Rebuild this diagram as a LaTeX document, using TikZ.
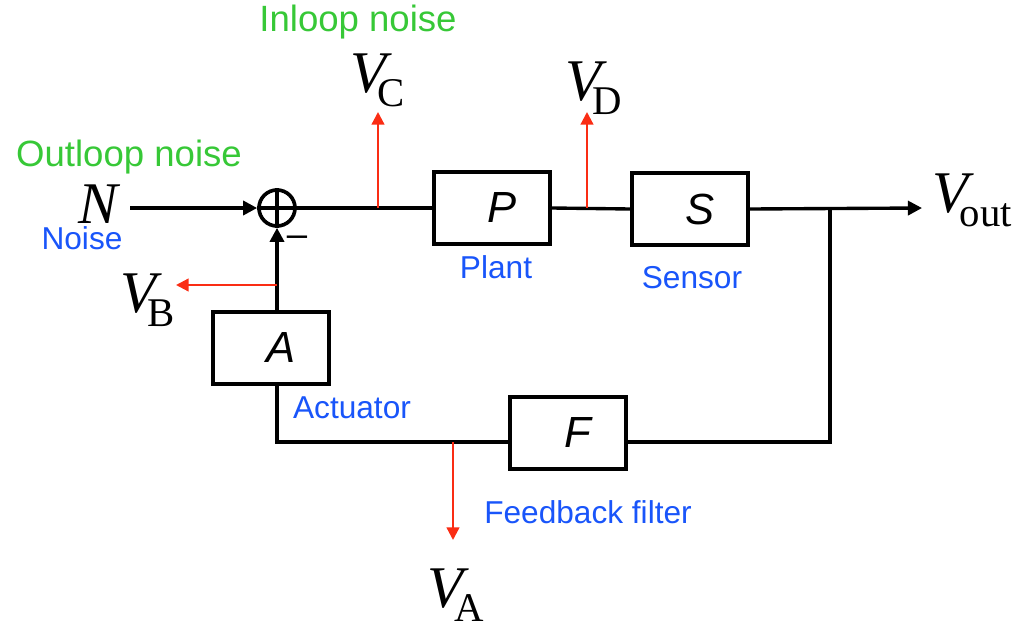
\documentclass[tikz,border=0pt]{standalone}
\usepackage{fontspec}
\setmainfont{Liberation Serif}
\setsansfont{Liberation Sans}
\usetikzlibrary{arrows.meta,positioning,calc}
\definecolor{lblblue}{RGB}{25,85,250}
\definecolor{noisegreen}{RGB}{55,200,55}
\definecolor{tapred}{RGB}{250,45,20}
\newcommand{\sig}[2]{{\fontsize{42}{42}\selectfont\itshape #1}\kern-6pt\raisebox{-0.37cm}{\fontsize{29}{29}\selectfont #2}}

\begin{document}
\begin{tikzpicture}[x=0.025cm,y=-0.025cm,
  blk/.style={draw,line width=2.8pt,minimum width=2.9cm,minimum height=1.82cm,
    inner sep=0pt,font=\sffamily\itshape\fontsize{31}{31}\selectfont},
  wire/.style={line width=2.4pt},
  sig/.style={-{Triangle[length=10pt,width=10pt]},line width=2.4pt},
  tap/.style={-{Triangle[length=9pt,width=9pt]},tapred,line width=1.6pt},
  var/.style={anchor=base west,inner sep=0pt},
  blu/.style={lblblue,font=\sffamily\fontsize{22.5}{22.5}\selectfont},
  grn/.style={noisegreen,font=\sffamily\fontsize{26}{26}\selectfont}]
\useasboundingbox (0,0) rectangle (1012,624);

% blocks
\node[circle,draw,line width=2.6pt,minimum size=0.9cm,inner sep=0pt] (sum) at (277,208) {};
\node[blk] (P) at (492,208) {\hspace*{0.5cm}P};
\node[blk] (S) at (690,209) {\hspace*{0.5cm}S};
\node[blk] (A) at (271,348) {\hspace*{0.5cm}A};
\node[blk] (F) at (568,433) {\hspace*{0.5cm}F};
\draw[line width=2.4pt] (sum.north) -- (sum.south) (sum.west) -- (sum.east);

% signals
\node[var] (N) at (78,223) {{\fontsize{42}{42}\selectfont\itshape N}};
\node[var] (Vout) at (932,212) {\sig{V}{out}};
\node[var] (VC) at (350,92) {\sig{V}{C}};
\node[var] (VD) at (565,100) {\sig{V}{D}};
\node[var] (VB) at (120,312) {\sig{V}{B}};
\node[var] (VA) at (427,607) {\sig{V}{A}};

\coordinate (nin) at (130,208);
\coordinate (out) at (922,208);
\coordinate (fbl) at (277,442);
\coordinate (fbr) at (830,442);
\coordinate (fbo) at (830,208);

% loop
\draw[sig] (nin) -- (sum.west);
\draw[wire] (sum.east) -- (P.west);
\draw[wire] (P.east) -- (S.west);
\draw[sig] (S.east) -- (out);
\draw[wire] (F.east |- fbr) -- (fbr) -- (fbo);
\draw[wire] (F.west |- fbl) -- (fbl) -- (A.south -| fbl);
\draw[sig] (A.north -| sum) -- (sum.south);
\node[font=\sffamily\fontsize{26}{26}\selectfont] (minus) at (297,241) {--};

% noise taps
\coordinate (tc) at (378,208);
\coordinate (td) at (587,208);
\coordinate (tb) at (277,285);
\coordinate (ta) at (453,442);
\draw[tap] (tc) -- (378,112);
\draw[tap] (td) -- (587,112);
\draw[tap] (tb) -- (176,285);
\draw[tap] (ta) -- (453,540);

% labels
\node[grn] (inl) at (358,22) {Inloop noise};
\node[grn] (outl) at (129,157) {Outloop noise};
\node[blu] (noise) at (82,238) {Noise};
\node[blu] (plant) at (496,267) {Plant};
\node[blu] (sensor) at (692,278) {Sensor};
\node[blu] (act) at (352,408) {Actuator};
\node[blu] (filt) at (588,512) {Feedback filter};
\end{tikzpicture}
\end{document}
